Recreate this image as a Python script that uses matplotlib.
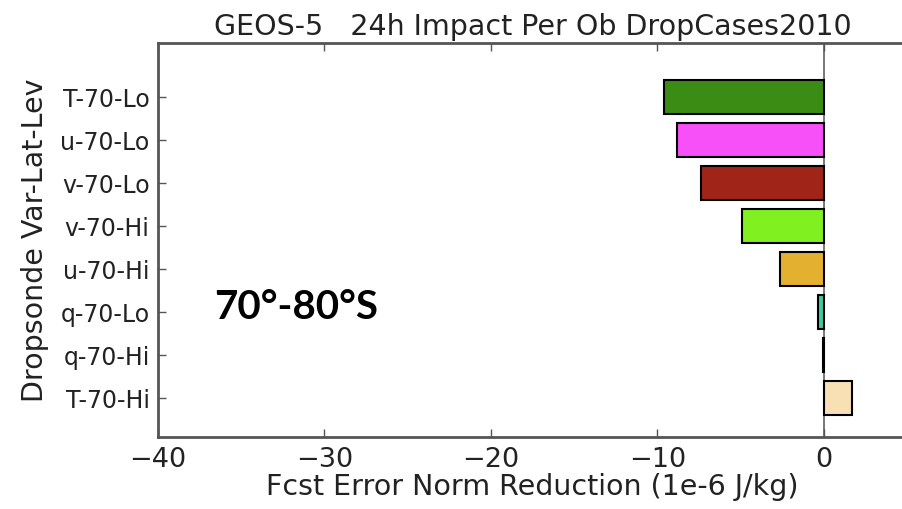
import numpy as np
import matplotlib.pyplot as plt

# dropsonde impact per observation, 70-80S, listed bottom to top
labels = ["T-70-Hi", "q-70-Hi", "q-70-Lo", "u-70-Hi", "v-70-Hi", "v-70-Lo", "u-70-Lo", "T-70-Lo"]
impact = [1.7, -0.05, -0.35, -2.65, -4.9, -7.35, -8.8, -9.6]
colors = ["#f8e0b4", "#404040", "#40c8a0", "#e4b030", "#80f020", "#a02418", "#f850f8", "#3a8c14"]


def plot_impact():
    fig = plt.figure(figsize=(9.02, 5.09), dpi=100)
    ax = fig.add_axes([158 / 902, 1 - 437 / 509, 749 / 902, 394 / 509])

    y = np.arange(1, len(labels) + 1)
    ax.axvline(0, color="#606060", lw=1.2, zorder=1)
    ax.barh(y, impact, height=0.8, color=colors, edgecolor="black", linewidth=1.5, zorder=2)

    ax.set_xlim(-40, 5)
    ax.set_ylim(0.1, 9.26)
    ax.set_xticks([-40, -30, -20, -10, 0])
    ax.set_yticks(y)
    ax.set_yticklabels(labels)

    ax.tick_params(axis="x", direction="in", top=True, length=6, width=1, colors="#555555",
                   labelcolor="#222222", labelsize=19.5, pad=7)
    ax.tick_params(axis="y", direction="in", length=6, width=1, colors="#555555",
                   labelcolor="#222222", labelsize=17, pad=6)
    for side in ["left", "bottom", "top"]:
        ax.spines[side].set_linewidth(2)
        ax.spines[side].set_color("#555555")
    ax.spines["right"].set_visible(False)

    ax.set_title("GEOS-5   24h Impact Per Ob DropCases2010", fontsize=20.5, color="#222222", pad=6)
    ax.set_xlabel("Fcst Error Norm Reduction (1e-6 J/kg)", fontsize=20.5, color="#222222", labelpad=0)
    ax.set_ylabel("Dropsonde Var-Lat-Lev", fontsize=20.5, color="#222222", labelpad=8)

    ax.text(-31.7, 3.12, "70°-80°S", fontsize=29, fontweight="bold", family="Lato",
            ha="center", va="center")

    fig.savefig("out.png", dpi=100)


def main():
    plot_impact()


if __name__ == "__main__":
    main()
